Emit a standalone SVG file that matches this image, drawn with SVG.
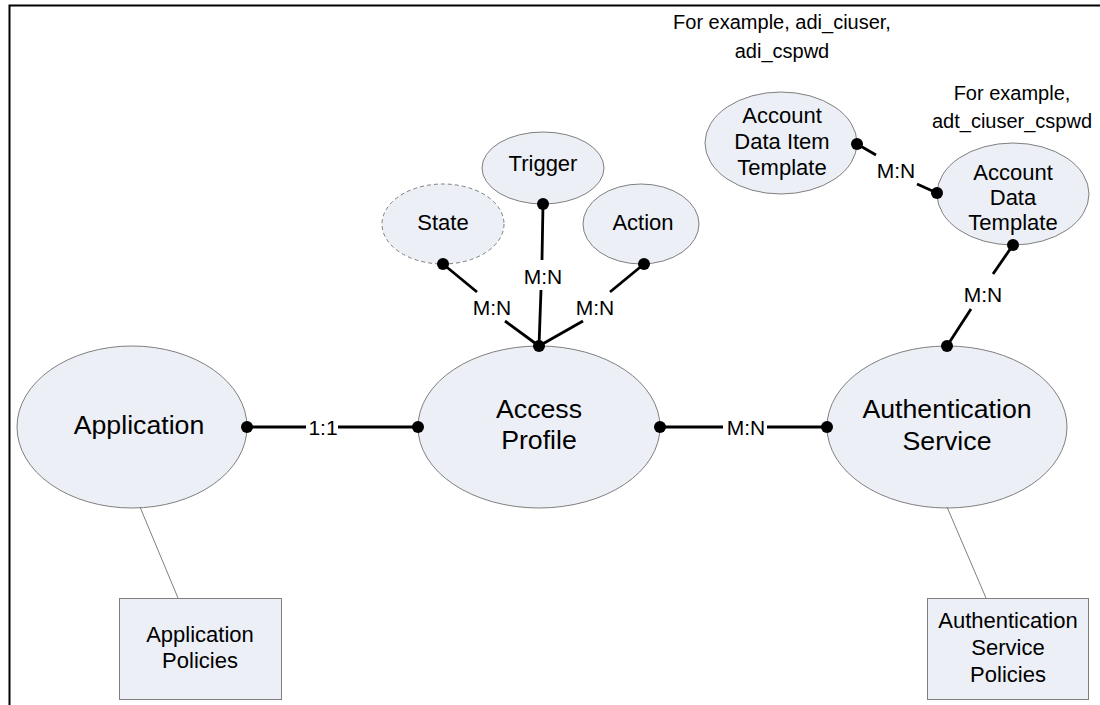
<svg xmlns="http://www.w3.org/2000/svg" width="1100" height="705" viewBox="0 0 1100 705">
<style>
  text { font-family: "Liberation Sans", Arial, sans-serif; fill: #000; text-anchor: middle; }
  .node { fill: #eceff5; stroke: #7f7f7f; stroke-width: 1; }
  .dashed { stroke-dasharray: 4 3; }
  .big { font-size: 26.7px; }
  .mid { font-size: 22px; }
  .lbl { font-size: 21px; }
  .note { font-size: 20px; }
  .conn { stroke: #000; stroke-width: 2.8; fill: none; }
  .thin { stroke: #7f7f7f; stroke-width: 1; fill: none; }
  .dot { fill: #000; }
</style>
<rect x="0" y="0" width="1100" height="705" fill="#fff"/>
<path d="M9.5 705 V5.5 H1100" fill="none" stroke="#000" stroke-width="2"/>

<g id="application">
  <ellipse class="node" cx="132" cy="427" rx="115" ry="81"/>
  <text class="big" x="139" y="434">Application</text>
</g>
<g id="access-profile">
  <ellipse class="node" cx="539" cy="427" rx="121" ry="81"/>
  <text class="big" x="539" y="418">Access</text>
  <text class="big" x="539" y="449">Profile</text>
</g>
<g id="authentication-service">
  <ellipse class="node" cx="947" cy="427" rx="120" ry="81"/>
  <text class="big" x="947" y="418">Authentication</text>
  <text class="big" x="947" y="450">Service</text>
</g>
<g id="state">
  <ellipse class="node dashed" cx="443" cy="224" rx="61" ry="40"/>
  <text class="mid" x="443" y="230">State</text>
</g>
<g id="trigger">
  <ellipse class="node" cx="543" cy="168" rx="61" ry="36"/>
  <text class="mid" x="543" y="171">Trigger</text>
</g>
<g id="action">
  <ellipse class="node" cx="641" cy="224" rx="58" ry="40"/>
  <text class="mid" x="643" y="230">Action</text>
</g>
<g id="account-data-item-template">
  <ellipse class="node" cx="781" cy="143" rx="76" ry="51"/>
  <text class="mid" x="782" y="123">Account</text>
  <text class="mid" x="782" y="149">Data Item</text>
  <text class="mid" x="782" y="175">Template</text>
</g>
<g id="account-data-template">
  <ellipse class="node" cx="1013" cy="194" rx="76" ry="51"/>
  <text class="mid" x="1013" y="180">Account</text>
  <text class="mid" x="1013" y="205">Data</text>
  <text class="mid" x="1013" y="230">Template</text>
</g>
<g id="application-policies">
  <rect class="node" x="119.5" y="598.5" width="162" height="101"/>
  <text class="mid" x="200" y="642">Application</text>
  <text class="mid" x="200" y="668">Policies</text>
</g>
<g id="authentication-service-policies">
  <rect class="node" x="927.5" y="598.5" width="161" height="101"/>
  <text class="mid" x="1008" y="628">Authentication</text>
  <text class="mid" x="1008" y="655">Service</text>
  <text class="mid" x="1008" y="682">Policies</text>
</g>
<g id="note-adi">
  <text class="note" x="782" y="29">For example, adi_ciuser,</text>
  <text class="note" x="782" y="58">adi_cspwd</text>
</g>
<g id="note-adt">
  <text class="note" x="1012" y="100">For example,</text>
  <text class="note" x="1012" y="128">adt_ciuser_cspwd</text>
</g>

<g id="connectors">
  <!-- policies -->
  <line class="thin" x1="140" y1="507" x2="178" y2="598"/>
  <line class="thin" x1="947" y1="507" x2="986" y2="598"/>
  <!-- Application - Access Profile 1:1 -->
  <line class="conn" x1="247" y1="427" x2="306" y2="427"/>
  <line class="conn" x1="338" y1="427" x2="418" y2="427"/>
  <circle class="dot" cx="247" cy="427" r="6"/>
  <circle class="dot" cx="418" cy="427" r="6"/>
  <text class="lbl" x="323" y="435">1:1</text>
  <!-- Access Profile - Authentication Service -->
  <line class="conn" x1="660" y1="427" x2="723" y2="427"/>
  <line class="conn" x1="767" y1="427" x2="827" y2="427"/>
  <circle class="dot" cx="660" cy="427" r="6"/>
  <circle class="dot" cx="827" cy="427" r="6"/>
  <text class="lbl" x="746" y="435">M:N</text>
  <!-- State -->
  <line class="conn" x1="443" y1="264" x2="477" y2="292"/>
  <line class="conn" x1="505" y1="321" x2="539" y2="346"/>
  <circle class="dot" cx="443" cy="264" r="6"/>
  <text class="lbl" x="492" y="315">M:N</text>
  <!-- Trigger -->
  <line class="conn" x1="543" y1="204" x2="542" y2="260"/>
  <line class="conn" x1="541" y1="290" x2="539" y2="346"/>
  <circle class="dot" cx="543" cy="204" r="6"/>
  <text class="lbl" x="543" y="284">M:N</text>
  <!-- Action -->
  <line class="conn" x1="644" y1="264" x2="610" y2="292"/>
  <line class="conn" x1="583" y1="321" x2="539" y2="346"/>
  <circle class="dot" cx="644" cy="264" r="6"/>
  <text class="lbl" x="595" y="315">M:N</text>
  <circle class="dot" cx="539" cy="346" r="6"/>
  <!-- ADIT - ADT -->
  <line class="conn" x1="857" y1="144" x2="876" y2="155"/>
  <line class="conn" x1="917" y1="184" x2="937" y2="193"/>
  <circle class="dot" cx="857" cy="144" r="6"/>
  <circle class="dot" cx="937" cy="193" r="6"/>
  <text class="lbl" x="896" y="178">M:N</text>
  <!-- ADT - Authentication Service -->
  <line class="conn" x1="1013" y1="245" x2="993" y2="274"/>
  <line class="conn" x1="971" y1="309" x2="947" y2="346"/>
  <circle class="dot" cx="1013" cy="245" r="6"/>
  <circle class="dot" cx="947" cy="346" r="6"/>
  <text class="lbl" x="983" y="302">M:N</text>
</g>
</svg>
